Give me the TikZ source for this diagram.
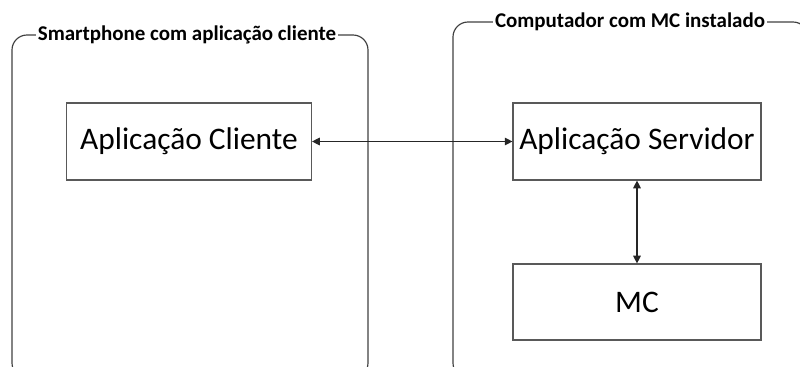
\documentclass[tikz,border=0pt]{standalone}
\usepackage{fontspec}
\setmainfont{Carlito}
\usetikzlibrary{arrows.meta}

\tikzset{
  bloco/.style={draw=black!65, line width=1pt, minimum width=73.5mm, minimum height=23.1mm,
                font=\fontsize{26.8}{32}\selectfont},
  moldura/.style={draw=black!75, line width=1pt, rounded corners=4.5mm},
  titulo/.style={fill=white, inner sep=1.5pt, font=\fontsize{17.9}{21}\selectfont\bfseries},
  liga/.style={black!85, line width=0.9pt, {Triangle[length=2.3mm,width=2.3mm]}-{Triangle[length=2.3mm,width=2.3mm]}}
}

\begin{document}
\begin{tikzpicture}[x=0.3mm, y=-0.3mm]
\useasboundingbox (0,0) rectangle (800,367);
\clip (0,0) rectangle (800,367);
% molduras dos dois lados
\draw[moldura] (12,35) rectangle (368,378);
\draw[moldura] (453,22) rectangle (808,378);
\node[titulo] (tcli) at (187,35) {Smartphone com aplicação cliente};
\node[titulo] (tsrv) at (630,22) {Computador com MC instalado};
% blocos
\node[bloco, minimum width=73.5mm] (cliente) at (189,141.5) {Aplicação Cliente};
\node[bloco, minimum width=74.4mm] (servidor) at (637,141.5) {Aplicação Servidor};
\node[bloco, minimum width=74.4mm, minimum height=22.8mm] (mc) at (637,302) {MC};
% ligacoes
\draw[liga] (cliente) -- (servidor);
\draw[liga] (servidor) -- (mc);
\end{tikzpicture}
\end{document}
